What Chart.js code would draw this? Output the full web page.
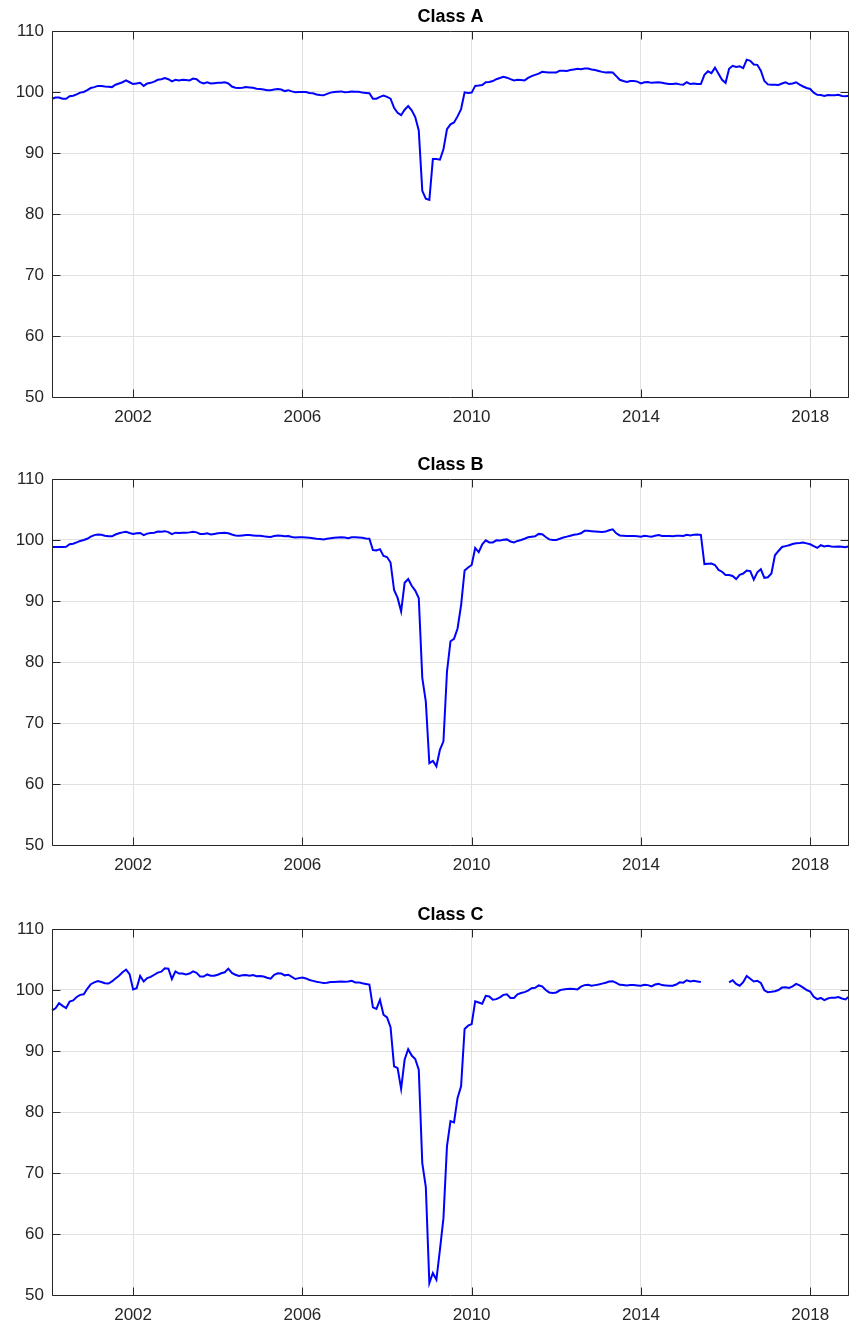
<!DOCTYPE html>
<html>
<head>
<meta charset="utf-8">
<script src="https://cdn.jsdelivr.net/npm/chart.js@4/dist/chart.umd.min.js"></script>
<style>
  body { margin: 0; background: #fff; }
  .panel { position: absolute; left: 0; width: 849px; height: 429px; }
</style>
</head>
<body>
<div class="panel" style="top:0px"><canvas id="chartA" width="849" height="429"></canvas></div>
<div class="panel" style="top:448px"><canvas id="chartB" width="849" height="429"></canvas></div>
<div class="panel" style="top:898px"><canvas id="chartC" width="849" height="429"></canvas></div>
<script>
// monthly series, first observation Feb 2000, last Dec 2018
const startYear = 2000;
const startMonth = 2;
const tickYears = [2002, 2006, 2010, 2014, 2018];
const yMin = 50, yMax = 110, yStep = 10;
const titles = ['Class A', 'Class B', 'Class C'];

const classA = [
  98.9, 99.1, 99.1, 98.9, 98.9, 99.3, 99.4, 99.6, 99.9, 100.0, 100.3, 100.65,
  100.8, 101.0, 101.0, 100.9, 100.85, 100.8, 101.2, 101.4, 101.6, 101.9, 101.6, 101.3,
  101.4, 101.5, 101.0, 101.4, 101.5, 101.7, 102.0, 102.1, 102.3, 102.1, 101.75, 102.0,
  101.9, 102.0, 101.95, 101.9, 102.2, 102.1, 101.6, 101.4, 101.6, 101.4, 101.45, 101.5,
  101.5, 101.6, 101.4, 100.9, 100.7, 100.65, 100.7, 100.8, 100.75, 100.7, 100.55, 100.5,
  100.4, 100.3, 100.3, 100.4, 100.5, 100.4, 100.15, 100.3, 100.1, 99.95, 100.0, 100.0,
  100.0, 99.85, 99.8, 99.6, 99.5, 99.45, 99.7, 99.9, 100.0, 100.05, 100.1, 99.95,
  100.0, 100.1, 100.05, 100.05, 99.9, 99.85, 99.8, 98.9, 98.9, 99.2, 99.4, 99.2,
  98.9, 97.4, 96.6, 96.2, 97.1, 97.7, 97.0, 95.9, 93.7, 83.8, 82.5, 82.3,
  89.0, 89.0, 88.9, 90.6, 93.9, 94.7, 95.0, 96.0, 97.2, 99.95, 99.85, 99.9,
  101.0, 101.05, 101.15, 101.6, 101.65, 101.8, 102.1, 102.3, 102.5, 102.35, 102.1, 101.9,
  102.0, 101.95, 101.9, 102.3, 102.6, 102.8, 103.0, 103.3, 103.25, 103.2, 103.2, 103.2,
  103.5, 103.5, 103.45, 103.6, 103.7, 103.8, 103.75, 103.85, 103.85, 103.7, 103.6, 103.45,
  103.3, 103.2, 103.25, 103.2, 102.6, 102.0, 101.8, 101.65, 101.8, 101.8, 101.7, 101.4,
  101.6, 101.65, 101.5, 101.55, 101.6, 101.5, 101.4, 101.3, 101.3, 101.4, 101.25, 101.2,
  101.6, 101.3, 101.4, 101.3, 101.3, 102.8, 103.4, 103.1, 104.0, 103.0, 102.0, 101.5,
  103.8, 104.3, 104.1, 104.2, 103.9, 105.3, 105.1, 104.5, 104.45, 103.5, 101.8, 101.25,
  101.2, 101.2, 101.15, 101.4, 101.6, 101.3, 101.4, 101.6, 101.2, 100.9, 100.65, 100.5,
  99.9, 99.55, 99.5, 99.35, 99.5, 99.45, 99.45, 99.55, 99.35, 99.3, 99.4
];

const classB = [
  98.85, 98.85, 98.85, 98.85, 98.9, 99.3, 99.4, 99.6, 99.85, 100.0, 100.2, 100.55,
  100.8, 100.9, 100.85, 100.7, 100.6, 100.6, 100.9, 101.1, 101.25, 101.35, 101.15, 101.0,
  101.1, 101.15, 100.8, 101.05, 101.15, 101.2, 101.4, 101.35, 101.45, 101.3, 100.95, 101.2,
  101.15, 101.2, 101.2, 101.25, 101.35, 101.25, 101.0, 101.0, 101.1, 100.9, 101.0, 101.1,
  101.15, 101.2, 101.1, 100.9, 100.75, 100.7, 100.75, 100.8, 100.8, 100.75, 100.7, 100.7,
  100.6, 100.55, 100.5, 100.65, 100.75, 100.7, 100.6, 100.65, 100.5, 100.4, 100.45, 100.45,
  100.4, 100.35, 100.3, 100.2, 100.15, 100.1, 100.2, 100.3, 100.35, 100.4, 100.45, 100.4,
  100.3, 100.45, 100.45, 100.4, 100.35, 100.25, 100.2, 98.35, 98.3, 98.5, 97.4, 97.2,
  96.3, 91.8, 90.5, 88.3, 93.0, 93.6, 92.5, 91.7, 90.5, 77.4, 73.5, 63.4,
  63.8, 62.9, 65.6, 67.0, 78.4, 83.4, 83.8, 85.5, 89.3, 95.0, 95.5, 95.9,
  98.7, 98.0, 99.3, 99.95, 99.6, 99.6, 99.95, 99.9, 100.05, 100.1, 99.75, 99.6,
  99.85, 100.0, 100.2, 100.45, 100.55, 100.6, 101.0, 100.95, 100.5, 100.1, 100.0, 100.0,
  100.2, 100.4, 100.55, 100.7, 100.85, 100.95, 101.1, 101.5, 101.5, 101.45, 101.4, 101.35,
  101.3, 101.4, 101.6, 101.75, 101.1, 100.75, 100.7, 100.65, 100.65, 100.65, 100.6, 100.55,
  100.7, 100.6, 100.55, 100.7, 100.8, 100.65, 100.65, 100.65, 100.6, 100.7, 100.7, 100.65,
  100.85, 100.75, 100.85, 100.9, 100.85, 96.05, 96.1, 96.15, 95.9, 95.1, 94.8, 94.25,
  94.25, 94.1, 93.6, 94.3, 94.5, 95.0, 94.9, 93.5, 94.7, 95.2, 93.8, 93.9,
  94.5, 97.5, 98.2, 98.85, 99.0, 99.15, 99.35, 99.45, 99.5, 99.6, 99.45, 99.3,
  99.0, 98.7, 99.15, 98.95, 99.05, 98.95, 98.9, 98.95, 98.9, 98.8, 99.0
];

const classC = [
  96.65, 97.0, 97.85, 97.4, 97.05, 98.1, 98.3, 98.85, 99.2, 99.3, 100.2, 100.95,
  101.25, 101.45, 101.3, 101.1, 101.05, 101.4, 101.9, 102.35, 102.9, 103.35, 102.6, 100.1,
  100.3, 102.3, 101.4, 101.95, 102.15, 102.5, 102.85, 103.0, 103.55, 103.5, 101.8, 103.05,
  102.7, 102.7, 102.55, 102.7, 103.05, 102.8, 102.2, 102.2, 102.55, 102.35, 102.35, 102.5,
  102.75, 102.9, 103.5, 102.8, 102.5, 102.3, 102.4, 102.45, 102.35, 102.45, 102.25, 102.3,
  102.2, 102.0, 101.85, 102.5, 102.75, 102.7, 102.4, 102.5, 102.15, 101.8, 101.95, 102.05,
  101.9, 101.65, 101.5, 101.35, 101.25, 101.15, 101.2, 101.3, 101.3, 101.35, 101.4, 101.35,
  101.4, 101.5, 101.25, 101.25, 101.1, 101.0, 100.9, 97.15, 96.9, 98.4, 95.95, 95.5,
  93.9, 87.5, 87.2, 83.8, 88.6, 90.3, 89.25, 88.7, 86.95, 71.6, 67.7, 51.95,
  53.6, 52.5, 57.4, 62.6, 74.4, 78.5, 78.3, 82.3, 84.2, 93.6, 94.15, 94.4,
  98.15, 97.95, 97.75, 99.05, 98.95, 98.4, 98.5, 98.8, 99.2, 99.3, 98.7, 98.7,
  99.3, 99.5, 99.65, 99.9, 100.3, 100.35, 100.75, 100.6, 100.0, 99.6, 99.5, 99.6,
  99.95, 100.1, 100.15, 100.2, 100.15, 100.1, 100.55, 100.8, 100.85, 100.7, 100.8, 100.9,
  101.05, 101.2, 101.4, 101.45, 101.15, 100.85, 100.8, 100.75, 100.8, 100.8, 100.75, 100.7,
  100.85, 100.8, 100.6, 100.9, 101.0, 100.8, 100.75, 100.7, 100.7, 100.9, 101.25, 101.2,
  101.6, 101.4, 101.5, 101.4, 101.3, null, null, null, null, null, null, null,
  101.25, 101.6, 101.0, 100.7, 101.3, 102.3, 101.85, 101.4, 101.5, 101.15, 99.95, 99.65,
  99.7, 99.8, 100.0, 100.4, 100.45, 100.35, 100.6, 101.0, 100.75, 100.4, 100.0, 99.75,
  98.9, 98.5, 98.7, 98.35, 98.6, 98.75, 98.75, 98.85, 98.6, 98.45, 98.95
];

const months = classA.map((_, i) => {
  const m = startMonth - 1 + i;
  return (startYear + Math.floor(m / 12)) + '-' + String(m % 12 + 1).padStart(2, '0');
});

const axisColor = '#262626';
const gridColor = '#e1e1e1';
const fontFamily = '"Liberation Sans", Arial, Helvetica, sans-serif';

// MATLAB-like box with inward ticks on all four sides
const boxTicks = {
  id: 'boxTicks',
  afterDraw(chart) {
    const { ctx, chartArea: a, scales: { x, y } } = chart;
    const len = 8;
    const L = a.left + 0.5, R = a.right - 0.5, T = a.top + 0.5, B = a.bottom + 0.5;
    ctx.save();
    ctx.strokeStyle = axisColor;
    ctx.lineWidth = 1;
    ctx.beginPath();
    x.ticks.forEach((t, i) => {
      const px = Math.round(x.getPixelForTick(i)) + 0.5;
      ctx.moveTo(px, B); ctx.lineTo(px, B - len);
      ctx.moveTo(px, T); ctx.lineTo(px, T + len);
    });
    y.ticks.forEach((t, i) => {
      const py = Math.round(y.getPixelForTick(i)) + 0.5;
      ctx.moveTo(L, py); ctx.lineTo(L + len, py);
      ctx.moveTo(R, py); ctx.lineTo(R - len, py);
    });
    ctx.moveTo(L, T); ctx.lineTo(R, T); ctx.lineTo(R, B); ctx.lineTo(L, B); ctx.closePath();
    ctx.stroke();
    ctx.restore();
  }
};

function makePanel(id, title, values) {
  return new Chart(document.getElementById(id), {
    type: 'line',
    data: {
      labels: months,
      datasets: [{
        data: values,
        borderColor: '#0000ff',
        borderWidth: 2,
        pointRadius: 0,
        fill: false,
        tension: 0,
        spanGaps: false
      }]
    },
    options: {
      responsive: false,
      animation: false,
      devicePixelRatio: 1,
      layout: { padding: { left: 0, right: 0, top: 0, bottom: 0 } },
      plugins: {
        legend: { display: false },
        tooltip: { enabled: false },
        title: {
          display: true,
          text: title,
          fullSize: false,
          color: '#000',
          font: { family: fontFamily, size: 18, weight: 'bold', lineHeight: '22px' },
          padding: { top: 6, bottom: 3 }
        }
      },
      scales: {
        x: {
          type: 'category',
          afterFit: (s) => { s.height = 32; },
          afterBuildTicks: (s) => {
            s.ticks = s.ticks.filter(t => {
              const lab = months[t.value];
              return lab.endsWith('-01') && tickYears.includes(+lab.slice(0, 4));
            });
          },
          grid: { color: gridColor, drawTicks: false },
          border: { display: false },
          ticks: {
            autoSkip: false,
            maxRotation: 0,
            padding: 10,
            color: axisColor,
            font: { family: fontFamily, size: 17 },
            callback: (v) => months[v].slice(0, 4)
          }
        },
        y: {
          min: yMin,
          max: yMax,
          afterFit: (s) => { s.width = 52; },
          grid: { color: gridColor, drawTicks: false },
          border: { display: false },
          ticks: {
            stepSize: yStep,
            padding: 8,
            color: axisColor,
            font: { family: fontFamily, size: 17 }
          }
        }
      }
    },
    plugins: [boxTicks]
  });
}

makePanel('chartA', titles[0], classA);
makePanel('chartB', titles[1], classB);
makePanel('chartC', titles[2], classC);
</script>
</body>
</html>
